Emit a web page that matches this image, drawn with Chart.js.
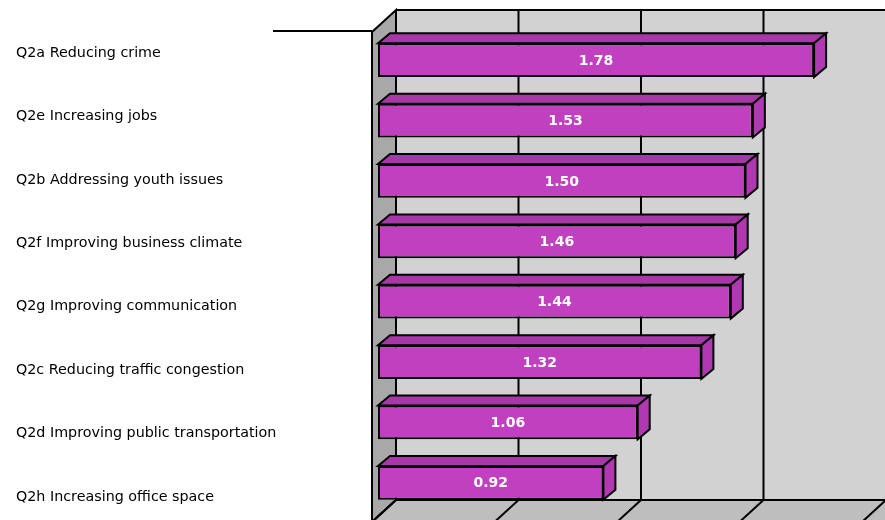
<!DOCTYPE html>
<html>
<head>
<meta charset="utf-8">
<script src="https://cdn.jsdelivr.net/npm/chart.js@4/dist/chart.umd.min.js"></script>
<style>
  html, body { margin: 0; padding: 0; background: #fff; }
  #wrap { width: 885px; height: 520px; }
</style>
</head>
<body>
<div id="wrap"><canvas id="canBar"></canvas></div>
<script>
// chart values
var categories = [
    'Q2a Reducing crime',
    'Q2e Increasing jobs',
    'Q2b Addressing youth issues',
    'Q2f Improving business climate',
    'Q2g Improving communication',
    'Q2c Reducing traffic congestion',
    'Q2d Improving public transportation',
    'Q2h Increasing office space'
];
var mean_scores = [1.78, 1.53, 1.50, 1.46, 1.44, 1.32, 1.06, 0.92];
var x_ticks = [0, 0.5, 1, 1.5, 2];

// 3d look
var WALL_DX = 24, WALL_DY = 22;
var BAR_DX = 12, BAR_DY = 10;

function poly(ctx, pts, fill) {
    ctx.beginPath();
    ctx.moveTo(pts[0][0], pts[0][1]);
    for (var i = 1; i < pts.length; i++) ctx.lineTo(pts[i][0], pts[i][1]);
    ctx.closePath();
    ctx.fillStyle = fill;
    ctx.fill();
    ctx.stroke();
}

function line(ctx, x1, y1, x2, y2) {
    ctx.beginPath();
    ctx.moveTo(x1, y1);
    ctx.lineTo(x2, y2);
    ctx.stroke();
}

var walls3d = {
    id: 'walls3d',
    beforeDatasetsDraw: function (chart) {
        var ctx = chart.ctx, ca = chart.chartArea, x = chart.scales.x;
        var bl = x.getPixelForValue(0) + 18;
        var br = x.getPixelForValue(2) + 18;
        var bt = ca.top - 20;
        var bb = ca.bottom - 13;
        var fl = bl - WALL_DX;

        ctx.save();
        ctx.strokeStyle = '#000';
        ctx.lineWidth = 2;
        ctx.lineJoin = 'miter';

        // back wall
        ctx.fillStyle = '#d2d2d2';
        ctx.fillRect(bl, bt, br - bl + 4, bb - bt);
        // left wall
        poly(ctx, [[fl, bt + WALL_DY], [bl, bt], [bl, bb], [fl, bb + WALL_DY]], '#a8a8a8');
        // floor
        ctx.fillStyle = '#bebebe';
        ctx.beginPath();
        ctx.moveTo(bl, bb);
        ctx.lineTo(br + 30, bb);
        ctx.lineTo(br + 30, bb + WALL_DY);
        ctx.lineTo(fl, bb + WALL_DY);
        ctx.closePath();
        ctx.fill();

        line(ctx, bl, bt, br + 4, bt);
        line(ctx, bl, bb, br + 4, bb);
        line(ctx, fl, bb + WALL_DY, bl, bb);
        x_ticks.forEach(function (v) {
            var gx = x.getPixelForValue(v) + 18;
            line(ctx, gx, bt, gx, bb);
            line(ctx, gx, bb, gx - WALL_DX, bb + WALL_DY);
        });
        // axis stub at top left
        line(ctx, fl - 99, bt + WALL_DY - 1, fl, bt + WALL_DY - 1);

        // bar top and side faces
        var meta = chart.getDatasetMeta(0);
        meta.data.forEach(function (el) {
            var p = el.getProps(['x', 'y', 'base', 'height'], true);
            var top = p.y - p.height / 2, bot = p.y + p.height / 2;
            poly(ctx, [[p.base, top], [p.base + BAR_DX, top - BAR_DY], [p.x + BAR_DX, top - BAR_DY], [p.x, top]], '#a838a8');
            poly(ctx, [[p.x, top], [p.x + BAR_DX, top - BAR_DY], [p.x + BAR_DX, bot - BAR_DY], [p.x, bot]], '#b038b0');
        });
        ctx.restore();
    },
    afterDatasetsDraw: function (chart) {
        var ctx = chart.ctx;
        var meta = chart.getDatasetMeta(0);
        ctx.save();
        ctx.fillStyle = '#fff';
        ctx.font = 'bold 14px "DejaVu Sans"';
        ctx.textAlign = 'center';
        ctx.textBaseline = 'middle';
        meta.data.forEach(function (el, i) {
            var p = el.getProps(['x', 'y', 'base'], true);
            ctx.fillText(mean_scores[i].toFixed(2), (p.x + p.base) / 2, p.y + 1);
        });
        ctx.restore();
    }
};

var ctx = document.getElementById('canBar').getContext('2d');
new Chart(ctx, {
    type: 'bar',
    data: {
        labels: categories,
        datasets: [{
            label: 'mean',
            data: mean_scores,
            backgroundColor: '#c040c0',
            borderColor: '#000',
            borderWidth: 2,
            borderSkipped: false,
            categoryPercentage: 1,
            barPercentage: 0.56
        }]
    },
    options: {
        indexAxis: 'y',
        responsive: true,
        maintainAspectRatio: false,
        animation: false,
        layout: { padding: { left: 16, right: 17, top: 30, bottom: 7 } },
        plugins: { legend: { display: false }, tooltip: { enabled: false } },
        scales: {
            x: { type: 'linear', min: 0, max: 2, display: false },
            y: { display: false },
            yLabels: {
                type: 'linear',
                position: 'left',
                reverse: true,
                offset: false,
                grid: { display: false, offset: false },
                border: { display: false },
                afterBuildTicks: function (scale) {
                    // labels sit on their own spacing, a bit wider than the bars
                    scale.ticks = categories.map(function (c, i) { return { value: i }; });
                    scale.min = -0.363;
                    scale.max = 7.252;
                },
                afterFit: function (scale) {
                    scale.width = 362;
                    scale.paddingTop = 0;
                    scale.paddingBottom = 0;
                },
                ticks: {
                    crossAlign: 'far',
                    color: '#000',
                    font: { family: '"DejaVu Sans"', size: 14.3 },
                    autoSkip: false,
                    callback: function (v) { return categories[v]; }
                }
            }
        }
    },
    plugins: [walls3d]
});
</script>
</body>
</html>
